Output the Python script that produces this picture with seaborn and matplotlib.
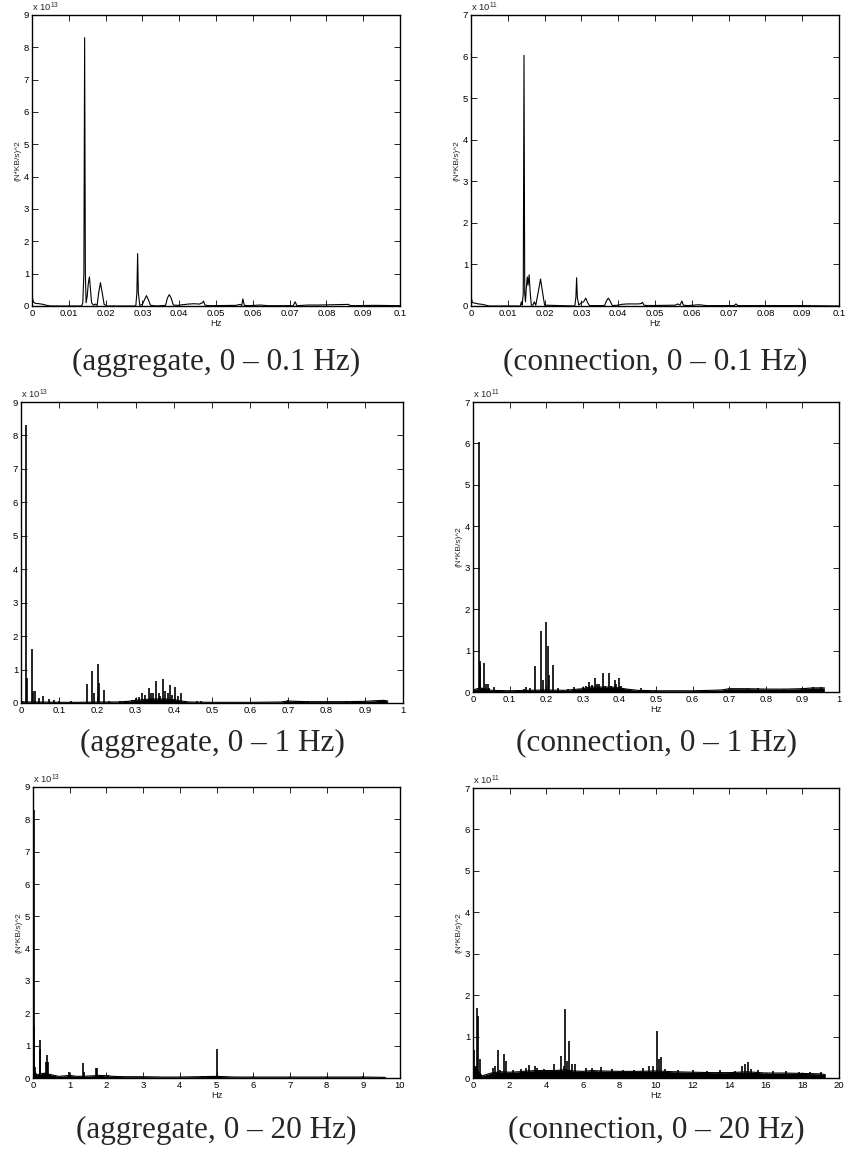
import matplotlib
matplotlib.use('Agg')
import matplotlib.pyplot as plt
import seaborn as sns

# ---------------- data (power shown in units of the axis multiplier) ----------------
# aggregate, 0 - 0.1 Hz  (x 10^13)
agg_low_hz = [0, 0.0004, 0.001, 0.002, 0.003, 0.004, 0.005, 0.0135, 0.0138, 0.0141,
              0.0143, 0.0145, 0.0147, 0.0150, 0.0153, 0.0156, 0.0159, 0.0162, 0.0167, 0.0172,
              0.0177, 0.0181, 0.0186, 0.0191, 0.0196, 0.0205, 0.0282, 0.0285, 0.0287, 0.0289,
              0.0293, 0.0300, 0.0306, 0.0311, 0.0316, 0.0322, 0.0340, 0.0363, 0.0368, 0.0373,
              0.0378, 0.0384, 0.0395, 0.0410, 0.0425, 0.0440, 0.0455, 0.0463, 0.0466, 0.0470,
              0.0480, 0.0555, 0.0565, 0.0570, 0.0573, 0.0577, 0.0590, 0.0620, 0.0640, 0.0710,
              0.0715, 0.0720, 0.0750, 0.0780, 0.0860, 0.0865, 0.0930, 0.1]
agg_low_pow = [0.3, 0.12, 0.08, 0.07, 0.05, 0.02, 0.0, 0.0, 0.1, 1.0,
               8.3, 1.0, 0.1, 0.3, 0.7, 0.9, 0.5, 0.1, 0.02, 0.06,
               0.02, 0.4, 0.72, 0.4, 0.05, 0.0, 0.0, 0.4, 1.62, 0.4,
               0.02, 0.05, 0.2, 0.32, 0.2, 0.02, 0.0, 0.02, 0.25, 0.35,
               0.25, 0.03, 0.02, 0.04, 0.06, 0.07, 0.06, 0.1, 0.15, 0.03,
               0.01, 0.02, 0.05, 0.02, 0.22, 0.02, 0.01, 0.03, 0.01, 0.01,
               0.13, 0.01, 0.03, 0.03, 0.05, 0.01, 0.02, 0.01]

# connection, 0 - 0.1 Hz  (x 10^11)
conn_low_hz = [0, 0.0004, 0.001, 0.002, 0.003, 0.004, 0.005, 0.0134, 0.0137, 0.0139,
               0.0142, 0.0144, 0.0146, 0.0148, 0.0150, 0.0153, 0.0155, 0.0158, 0.0161, 0.0164,
               0.0168, 0.0172, 0.0176, 0.0182, 0.0189, 0.0195, 0.0200, 0.0282, 0.0285, 0.0287,
               0.0289, 0.0293, 0.0300, 0.0306, 0.0312, 0.0317, 0.0322, 0.0363, 0.0368, 0.0373,
               0.0378, 0.0384, 0.0400, 0.0410, 0.0425, 0.0440, 0.0455, 0.0463, 0.0466, 0.0470,
               0.0480, 0.0555, 0.0562, 0.0568, 0.0573, 0.0577, 0.0590, 0.0620, 0.0640, 0.0715,
               0.0720, 0.0725, 0.0800, 0.0900, 0.1]
conn_low_pow = [0.22, 0.08, 0.07, 0.05, 0.04, 0.02, 0.0, 0.0, 0.1, 0.02,
                0.3, 6.03, 0.3, 0.1, 0.4, 0.7, 0.5, 0.75, 0.3, 0.02,
                0.02, 0.1, 0.02, 0.3, 0.65, 0.3, 0.02, 0.0, 0.2, 0.68,
                0.2, 0.02, 0.08, 0.1, 0.19, 0.08, 0.01, 0.01, 0.12, 0.19,
                0.12, 0.01, 0.02, 0.04, 0.05, 0.05, 0.05, 0.06, 0.09, 0.02,
                0.01, 0.02, 0.05, 0.02, 0.12, 0.02, 0.01, 0.03, 0.01, 0.01,
                0.05, 0.01, 0.01, 0.01, 0.0]

# aggregate, 0 - 1 Hz  (x 10^13)
agg_mid_peak_hz = [0.0143, 0.0165, 0.029, 0.031, 0.037, 0.046, 0.057, 0.072, 0.086, 0.1,
                   0.13, 0.173, 0.187, 0.19, 0.201, 0.204, 0.216, 0.23, 0.26, 0.28,
                   0.29, 0.30, 0.31, 0.318, 0.325, 0.334, 0.34, 0.345, 0.354, 0.36,
                   0.365, 0.373, 0.378, 0.384, 0.389, 0.395, 0.402, 0.41, 0.418, 0.43,
                   0.46, 0.47, 0.7, 0.72, 0.75, 0.8, 0.85, 0.9, 0.935, 0.95]
agg_mid_peak_pow = [8.3, 0.75, 1.6, 0.35, 0.35, 0.15, 0.22, 0.13, 0.08, 0.07,
                    0.05, 0.58, 0.97, 0.3, 1.17, 0.6, 0.38, 0.05, 0.05, 0.07,
                    0.08, 0.15, 0.17, 0.3, 0.25, 0.45, 0.3, 0.3, 0.66, 0.3,
                    0.2, 0.72, 0.35, 0.3, 0.53, 0.25, 0.49, 0.2, 0.3, 0.05,
                    0.05, 0.05, 0.08, 0.05, 0.05, 0.04, 0.05, 0.06, 0.1, 0.1]
agg_mid_floor_hz = [0, 0.01, 0.05, 0.1, 0.15, 0.2, 0.25, 0.28, 0.3, 0.32,
                    0.34, 0.36, 0.38, 0.4, 0.42, 0.44, 0.5, 0.6, 0.68, 0.7,
                    0.72, 0.75, 0.8, 0.85, 0.9, 0.93, 0.95, 0.96]
agg_mid_floor_pow = [0.05, 0.03, 0.03, 0.02, 0.02, 0.03, 0.03, 0.05, 0.08, 0.1,
                     0.12, 0.12, 0.12, 0.1, 0.06, 0.03, 0.02, 0.02, 0.03, 0.06,
                     0.05, 0.04, 0.04, 0.04, 0.05, 0.07, 0.08, 0.06]

# connection, 0 - 1 Hz  (x 10^11)
conn_mid_peak_hz = [0.016, 0.018, 0.02, 0.03, 0.035, 0.04, 0.045, 0.058, 0.07, 0.1,
                    0.12, 0.14, 0.145, 0.155, 0.17, 0.186, 0.19, 0.2, 0.204, 0.207,
                    0.218, 0.232, 0.26, 0.275, 0.29, 0.3, 0.31, 0.318, 0.324, 0.334,
                    0.34, 0.345, 0.354, 0.36, 0.372, 0.378, 0.387, 0.392, 0.4, 0.405,
                    0.42, 0.46, 0.5, 0.7, 0.75, 0.78, 0.85, 0.9, 0.93, 0.95]
conn_mid_peak_pow = [6.03, 0.75, 0.65, 0.7, 0.2, 0.2, 0.1, 0.12, 0.05, 0.05,
                     0.06, 0.08, 0.12, 0.1, 0.62, 1.48, 0.3, 1.7, 1.1, 0.4,
                     0.65, 0.1, 0.08, 0.12, 0.08, 0.12, 0.15, 0.25, 0.18, 0.35,
                     0.2, 0.2, 0.47, 0.15, 0.47, 0.15, 0.28, 0.2, 0.34, 0.15,
                     0.08, 0.1, 0.05, 0.08, 0.08, 0.1, 0.08, 0.1, 0.12, 0.12]
conn_mid_floor_hz = [0, 0.02, 0.05, 0.1, 0.15, 0.2, 0.25, 0.3, 0.32, 0.34,
                     0.36, 0.38, 0.4, 0.42, 0.45, 0.5, 0.55, 0.6, 0.65, 0.68,
                     0.7, 0.75, 0.8, 0.85, 0.9, 0.93, 0.96]
conn_mid_floor_pow = [0.05, 0.1, 0.04, 0.03, 0.04, 0.05, 0.04, 0.08, 0.12, 0.12,
                      0.12, 0.12, 0.1, 0.07, 0.04, 0.03, 0.03, 0.03, 0.04, 0.05,
                      0.08, 0.08, 0.07, 0.07, 0.08, 0.1, 0.1]

# aggregate, 0 - 20 Hz  (x 10^13)
agg_high_peak_hz = [0.014, 0.03, 0.05, 0.19, 0.2, 0.35, 0.37, 0.4, 0.98, 1.37,
                    1.4, 1.72, 1.75, 2.05, 4.6, 4.8, 5.02, 6.0, 7.0, 8.0, 9.0]
agg_high_peak_pow = [8.3, 1.6, 0.35, 0.9, 1.17, 0.5, 0.72, 0.5, 0.18, 0.47,
                     0.2, 0.32, 0.3, 0.08, 0.07, 0.06, 0.9, 0.04, 0.04, 0.04, 0.05]
agg_high_floor_hz = [0, 0.1, 0.3, 0.5, 0.7, 1.0, 1.2, 1.5, 1.8, 2.0,
                     2.2, 2.5, 3, 3.5, 4, 4.5, 5, 5.5, 6, 7,
                     8, 9, 9.6]
agg_high_floor_pow = [0.3, 0.1, 0.15, 0.1, 0.05, 0.08, 0.05, 0.06, 0.08, 0.07,
                      0.05, 0.04, 0.04, 0.03, 0.03, 0.04, 0.05, 0.03, 0.03, 0.03,
                      0.03, 0.03, 0.02]

# connection, 0 - 20 Hz  (x 10^11)
conn_high_peak_hz = [0.07, 0.15, 0.22, 0.25, 0.4, 1.1, 1.2, 1.37, 1.45, 1.72,
                     1.8, 2.2, 2.6, 2.9, 3.05, 3.4, 3.5, 3.9, 4.4, 4.8,
                     4.95, 5.02, 5.12, 5.22, 5.4, 5.6, 6.2, 6.5, 7.0, 7.6,
                     8.2, 8.8, 9.3, 9.6, 9.85, 10.05, 10.15, 10.3, 10.5, 11.2,
                     12.0, 12.8, 13.5, 14.3, 14.7, 14.85, 15.05, 15.2, 15.6, 16.4,
                     17.1, 17.8, 18.4, 19.0]
conn_high_peak_pow = [0.68, 0.3, 1.7, 1.5, 0.47, 0.25, 0.3, 0.68, 0.2, 0.58,
                      0.4, 0.2, 0.22, 0.25, 0.32, 0.3, 0.25, 0.22, 0.35, 0.53,
                      0.3, 1.67, 0.4, 0.9, 0.35, 0.35, 0.25, 0.25, 0.27, 0.22,
                      0.2, 0.2, 0.25, 0.3, 0.3, 1.13, 0.45, 0.5, 0.22, 0.2,
                      0.2, 0.18, 0.2, 0.18, 0.3, 0.35, 0.38, 0.22, 0.2, 0.18,
                      0.18, 0.15, 0.15, 0.14]
conn_high_floor_hz = [0, 0.3, 0.5, 0.7, 1, 1.5, 2, 2.5, 3, 3.5,
                      4, 4.5, 5, 5.5, 6, 6.5, 7, 8, 9, 10,
                      11, 12, 13, 14, 15, 16, 17, 18, 19, 19.25]
conn_high_floor_pow = [0.3, 0.15, 0.05, 0.08, 0.12, 0.15, 0.14, 0.15, 0.17, 0.18,
                       0.18, 0.18, 0.2, 0.17, 0.16, 0.18, 0.17, 0.16, 0.16, 0.17,
                       0.15, 0.14, 0.13, 0.13, 0.15, 0.12, 0.12, 0.11, 0.1, 0.08]

# ticks and labels
low_ticks = [0, 0.01, 0.02, 0.03, 0.04, 0.05, 0.06, 0.07, 0.08, 0.09, 0.1]
low_labels = ['0', '0.01', '0.02', '0.03', '0.04', '0.05', '0.06', '0.07', '0.08', '0.09', '0.1']
mid_ticks = [0, 0.1, 0.2, 0.3, 0.4, 0.5, 0.6, 0.7, 0.8, 0.9, 1]
mid_labels = ['0', '0.1', '0.2', '0.3', '0.4', '0.5', '0.6', '0.7', '0.8', '0.9', '1']
agg_high_ticks = [0, 1, 2, 3, 4, 5, 6, 7, 8, 9, 10]
conn_high_ticks = [0, 2, 4, 6, 8, 10, 12, 14, 16, 18, 20]
agg_yticks = [0, 1, 2, 3, 4, 5, 6, 7, 8, 9]
conn_yticks = [0, 1, 2, 3, 4, 5, 6, 7]
agg_exp, conn_exp = 13, 11
y_label = '(N*KB/s)^2'
captions = ['(aggregate, 0 \u2013 0.1 Hz)', '(connection, 0 \u2013 0.1 Hz)',
            '(aggregate, 0 \u2013 1 Hz)', '(connection, 0 \u2013 1 Hz)',
            '(aggregate, 0 \u2013 20 Hz)', '(connection, 0 \u2013 20 Hz)']

# ---------------- style ----------------
sns.set_style('ticks')
plt.rcParams['font.family'] = ['Liberation Sans', 'DejaVu Sans']

W, H = 847, 1153
fig = plt.figure(figsize=(W / 100, H / 100), dpi=100)


def make_axes(l, r, t, b):
    return fig.add_axes([l / W, 1 - b / H, (r - l) / W, (b - t) / H])


def style(ax, xticks, xlabels, yticks, exp, show_ylabel=True, show_xlabel=True):
    ax.set_xlim(xticks[0], xticks[-1])
    ax.set_ylim(yticks[0], yticks[-1])
    ax.set_xticks(xticks)
    ax.set_xticklabels(xlabels)
    ax.set_yticks(yticks)
    ax.set_yticklabels([str(v) for v in yticks])
    ax.tick_params(direction='in', top=True, right=True, length=4, width=0.6,
                   labelsize=6.8, pad=2, colors='black')
    for s in ax.spines.values():
        s.set_linewidth(1.0)
        s.set_color('black')
    ax.text(0, 1.003, 'x 10$^{\\mathregular{%d}}$' % exp, transform=ax.transAxes,
            fontsize=6.8, ha='left', va='bottom')
    ax.set_xlabel('Hz' if show_xlabel else '', fontsize=6.8, labelpad=1)
    ax.set_ylabel(y_label if show_ylabel else '', fontsize=6, labelpad=2)
    ax.set_facecolor('white')


def trace(ax, hz, pw):
    sns.lineplot(x=hz, y=pw, ax=ax, color='black', linewidth=0.8,
                 estimator=None, sort=False)


def spectrum(ax, floor_hz, floor_pw, peak_hz, peak_pw):
    ax.fill_between(floor_hz, 0, floor_pw, color='black', linewidth=0)
    sns.lineplot(x=floor_hz, y=floor_pw, ax=ax, color='black', linewidth=0.8,
                 estimator=None, sort=False)
    ax.vlines(peak_hz, 0, peak_pw, color='black', linewidth=1.2)


# row 1
ax1 = make_axes(32, 400, 15, 306)
trace(ax1, agg_low_hz, agg_low_pow)
style(ax1, low_ticks, low_labels, agg_yticks, agg_exp)

ax2 = make_axes(471, 839, 15, 306)
trace(ax2, conn_low_hz, conn_low_pow)
style(ax2, low_ticks, low_labels, conn_yticks, conn_exp)

# row 2
ax3 = make_axes(21, 403, 402, 703)
spectrum(ax3, agg_mid_floor_hz, agg_mid_floor_pow, agg_mid_peak_hz, agg_mid_peak_pow)
style(ax3, mid_ticks, mid_labels, agg_yticks, agg_exp, show_ylabel=False, show_xlabel=False)

ax4 = make_axes(473, 839, 402, 692)
spectrum(ax4, conn_mid_floor_hz, conn_mid_floor_pow, conn_mid_peak_hz, conn_mid_peak_pow)
style(ax4, mid_ticks, mid_labels, conn_yticks, conn_exp)

# row 3
ax5 = make_axes(33, 400, 787, 1078)
spectrum(ax5, agg_high_floor_hz, agg_high_floor_pow, agg_high_peak_hz, agg_high_peak_pow)
style(ax5, agg_high_ticks, [str(v) for v in agg_high_ticks], agg_yticks, agg_exp)

ax6 = make_axes(473, 839, 788, 1078)
spectrum(ax6, conn_high_floor_hz, conn_high_floor_pow, conn_high_peak_hz, conn_high_peak_pow)
style(ax6, conn_high_ticks, [str(v) for v in conn_high_ticks], conn_yticks, conn_exp)

# captions
cap_pos = [(216, 362), (655, 362), (212, 743), (656, 743), (216, 1130), (656, 1130)]
for (cx, cy), txt in zip(cap_pos, captions):
    fig.text(cx / W, 1 - cy / H, txt, ha='center', va='center',
             family='Liberation Serif', fontsize=22.5)

fig.savefig('out.png', dpi=100, facecolor='white')
